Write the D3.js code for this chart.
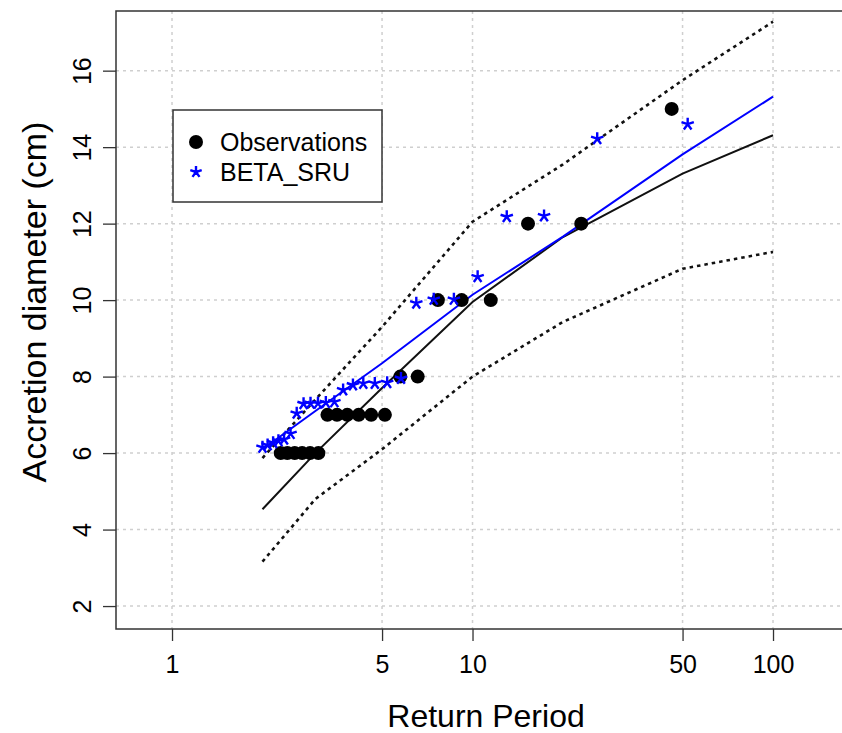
<!DOCTYPE html>
<html>
<head>
<meta charset="utf-8">
<script src="https://cdn.jsdelivr.net/npm/d3@7"></script>
<style>
  body { margin: 0; background: #fff; }
  svg { display: block; font-family: "Liberation Sans", Arial, sans-serif; }
</style>
</head>
<body>
<div id="chart"></div>
<script>
var width = 842, height = 733;

// observations (return period, diameter)
var obsPeriod = [46, 23, 15.3, 11.5, 9.2, 7.67, 6.57, 5.75, 5.11, 4.6, 4.18, 3.83, 3.54, 3.29, 3.07, 2.88, 2.71, 2.56, 2.42, 2.3];
var obsValue = [15, 12, 12, 10, 10, 10, 8, 8, 7, 7, 7, 7, 7, 7, 6, 6, 6, 6, 6, 6];

// BETA_SRU simulated points
var simPeriod = [52, 26, 17.3, 13, 10.4, 8.67, 7.43, 6.5, 5.78, 5.2, 4.73, 4.33, 4.0, 3.71, 3.47, 3.25, 3.06, 2.89, 2.74, 2.6, 2.48, 2.36, 2.26, 2.17, 2.08, 2.0];
var simValue = [14.6, 14.22, 12.2, 12.18, 10.61, 10.02, 10.02, 9.92, 7.95, 7.84, 7.82, 7.82, 7.78, 7.65, 7.34, 7.32, 7.30, 7.30, 7.29, 7.04, 6.51, 6.36, 6.32, 6.27, 6.21, 6.15];

// fitted curves
var curvePeriod = [2, 3, 5, 10, 20, 50, 100];
var fitBlack = [4.53, 6.0, 7.7, 9.95, 11.65, 13.31, 14.31];
var fitBlue = [6.1, 7.1, 8.35, 10.14, 11.66, 13.81, 15.32];
var ciUpper = [5.87, 7.4, 9.3, 12.05, 13.55, 15.75, 17.28];
var ciLower = [3.16, 4.8, 6.1, 8.0, 9.43, 10.82, 11.26];

var xTicks = [1, 5, 10, 50, 100];
var yTicks = [2, 4, 6, 8, 10, 12, 14, 16];

var plot = {left: 116, right: 845, top: 11, bottom: 629};

var x = d3.scaleLog().domain([0.651, 173.6]).range([plot.left, plot.right]);
var y = d3.scaleLinear().domain([1.40, 17.56]).range([plot.bottom, plot.top]);

var svg = d3.select("#chart").append("svg").attr("width", width).attr("height", height);

// grid
svg.append("g").selectAll("line").data(yTicks).enter().append("line")
    .attr("x1", plot.left).attr("x2", plot.right)
    .attr("y1", function(d){ return y(d); }).attr("y2", function(d){ return y(d); })
    .attr("stroke", "#cfcfcf").attr("stroke-width", 1.5).attr("stroke-dasharray", "3,4");
svg.append("g").selectAll("line").data(xTicks).enter().append("line")
    .attr("y1", plot.top).attr("y2", plot.bottom)
    .attr("x1", function(d){ return x(d); }).attr("x2", function(d){ return x(d); })
    .attr("stroke", "#cfcfcf").attr("stroke-width", 1.5).attr("stroke-dasharray", "3,4");

// axes
var xAxis = svg.append("g").attr("transform", "translate(0," + plot.bottom + ")")
    .call(d3.axisBottom(x).tickValues(xTicks).tickFormat(d3.format("d")).tickSize(12).tickPadding(14));
xAxis.select(".domain").remove();
xAxis.selectAll("text").attr("font-size", 25).attr("fill", "#000").attr("font-family", "Liberation Sans, Arial, sans-serif");
xAxis.selectAll("line").attr("stroke", "#333").attr("stroke-width", 1.3);

var yAxis = svg.append("g").attr("transform", "translate(" + plot.left + ",0)")
    .call(d3.axisLeft(y).tickValues(yTicks).tickSize(13).tickFormat(d3.format("d")));
yAxis.select(".domain").remove();
yAxis.selectAll("line").attr("stroke", "#333").attr("stroke-width", 1.3);
yAxis.selectAll("text")
    .attr("font-size", 25).attr("fill", "#000").attr("font-family", "Liberation Sans, Arial, sans-serif")
    .attr("x", null).attr("dy", null)
    .attr("text-anchor", "middle")
    .attr("transform", "translate(-25,0) rotate(-90)");

// box
svg.append("rect")
    .attr("x", plot.left).attr("y", plot.top)
    .attr("width", plot.right - plot.left).attr("height", plot.bottom - plot.top)
    .attr("fill", "none").attr("stroke", "#333").attr("stroke-width", 1.5);

// curves
function curve(values, color, dash){
    var line = d3.line()
        .x(function(d, i){ return x(curvePeriod[i]); })
        .y(function(d){ return y(d); });
    svg.append("path").datum(values)
        .attr("d", line)
        .attr("fill", "none")
        .attr("stroke", color)
        .attr("stroke-width", dash ? 2.6 : 2)
        .attr("stroke-dasharray", dash ? "3.5,4" : null);
}
curve(ciUpper, "#111", true);
curve(ciLower, "#111", true);
curve(fitBlack, "#111", false);
curve(fitBlue, "#0000ff", false);

// observations
svg.append("g").selectAll("circle").data(obsValue).enter().append("circle")
    .attr("cx", function(d, i){ return x(obsPeriod[i]); })
    .attr("cy", function(d){ return y(d); })
    .attr("r", 7).attr("fill", "#000");

// asterisk path, five arms
function star(len){
    var p = "";
    [-90, -18, 54, 126, 198].forEach(function(a){
        var r = a * Math.PI / 180;
        p += "M0,0L" + (len * Math.cos(r)).toFixed(2) + "," + (len * Math.sin(r)).toFixed(2);
    });
    return p;
}

svg.append("g").selectAll("path").data(simValue).enter().append("path")
    .attr("d", star(6.5))
    .attr("transform", function(d, i){ return "translate(" + x(simPeriod[i]) + "," + y(d) + ")"; })
    .attr("fill", "none").attr("stroke", "#0000ff").attr("stroke-width", 2.4);

// axis titles
svg.append("text")
    .attr("x", 486).attr("y", 727)
    .attr("text-anchor", "middle").attr("font-size", 32)
    .text("Return Period");
svg.append("text")
    .attr("transform", "translate(46,302) rotate(-90)")
    .attr("text-anchor", "middle").attr("font-size", 34)
    .text("Accretion diameter (cm)");

// legend
var legend = svg.append("g");
legend.append("rect")
    .attr("x", 173).attr("y", 110).attr("width", 209).attr("height", 92)
    .attr("fill", "#fff").attr("stroke", "#333").attr("stroke-width", 1.5);
legend.append("circle").attr("cx", 196).attr("cy", 142).attr("r", 7).attr("fill", "#000");
legend.append("path").attr("d", star(6))
    .attr("transform", "translate(196,172)")
    .attr("fill", "none").attr("stroke", "#0000ff").attr("stroke-width", 2.4);
legend.append("text").attr("x", 220).attr("y", 151).attr("font-size", 25).text("Observations");
legend.append("text").attr("x", 220).attr("y", 181).attr("font-size", 25).text("BETA_SRU");
</script>
</body>
</html>
